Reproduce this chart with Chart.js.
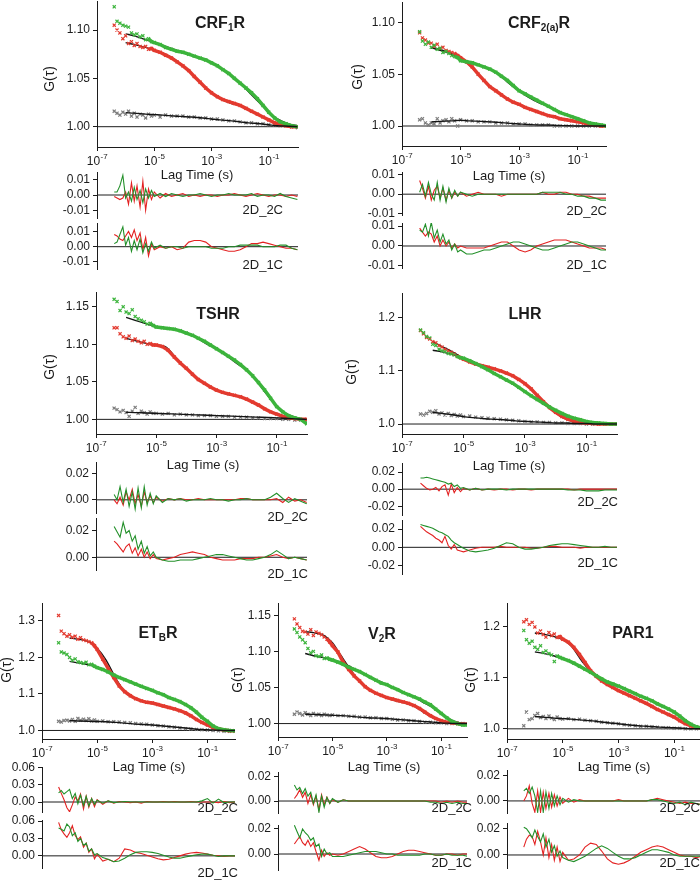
<!DOCTYPE html>
<html>
<head>
<meta charset="utf-8">
<script src="https://cdn.jsdelivr.net/npm/chart.js@4.4.1/dist/chart.umd.min.js"></script>
<style>
  html, body { margin: 0; padding: 0; background: #fff; }
  #fig { position: relative; width: 700px; height: 880px; overflow: hidden; background: #fff; }
  #fig canvas { position: absolute; }
</style>
</head>
<body>
<div id="fig"></div>
<script>
// lag times (s) of the measured points and residuals, and of the fitted curves
const lagTimes = [4e-7, 5e-7, 6.3e-7, 8e-7, 1e-6, 1.26e-6, 1.6e-6, 2e-6, 2.5e-6, 3.2e-6, 4e-6, 5e-6, 6.3e-6, 8e-6, 1e-5, 1.6e-5, 2.5e-5, 4e-5, 6.3e-5, 1e-4, 1.6e-4, 2.5e-4, 4e-4, 6.3e-4, 1e-3, 1.6e-3, 2.5e-3, 4e-3, 6.3e-3, 1e-2, 1.6e-2, 2.5e-2, 4e-2, 6.3e-2, 0.1, 0.16, 0.25, 0.4, 0.63, 1];
const fitTimes = [1e-6, 2e-6, 5e-6, 1e-5, 2e-5, 5e-5, 1e-4, 2e-4, 5e-4, 1e-3, 2e-3, 5e-3, 1e-2, 2e-2, 5e-2, 0.1, 0.2, 0.5, 1];
const xTickValues = [1e-7, 1e-5, 1e-3, 1e-1];

// CRF1R
const crf1Ticks = [1.00, 1.05, 1.10];
const crf1ResTicks = [-0.01, 0.00, 0.01];
const crf1Red = [1.105,1.100,1.097,1.091,1.094,1.086,1.088,1.084,1.086,1.083, 1.082,1.083,1.080,1.081,1.079,1.077,1.074,1.071,1.067,1.063, 1.058,1.052,1.046,1.040,1.035,1.031,1.028,1.026,1.024,1.022, 1.019,1.016,1.013,1.010,1.007,1.004,1.002,1.001,1.000,1.000];
const crf1Green = [1.124,1.109,1.107,1.105,1.104,1.103,1.097,1.095,1.096,1.093, 1.094,1.090,1.091,1.088,1.087,1.085,1.082,1.080,1.078,1.077, 1.075,1.073,1.071,1.069,1.066,1.063,1.059,1.055,1.050,1.045, 1.040,1.035,1.029,1.022,1.015,1.009,1.005,1.003,1.001,1.000];
const crf1Gray = [1.016,1.014,1.012,1.015,1.013,1.016,1.011,1.014,1.010,1.013, 1.012,1.009,1.013,1.011,1.012,1.010,1.012,1.011,1.011,1.011, 1.010,1.010,1.009,1.009,1.008,1.008,1.007,1.006,1.006,1.005, 1.004,1.004,1.003,1.003,1.002,1.002,1.001,1.001,1.000,0.999];
const crf1RedFit = [1.087,1.085,1.082,1.079,1.076,1.070,1.063,1.055,1.043,1.035,1.029,1.024,1.022,1.018,1.012,1.007,1.003,1.001,1.000];
const crf1GreenFit = [1.096,1.094,1.090,1.087,1.084,1.080,1.077,1.074,1.070,1.066,1.061,1.052,1.045,1.036,1.024,1.015,1.008,1.003,1.001];
const crf1GrayFit = [1.0145,1.014,1.013,1.0125,1.012,1.011,1.0105,1.010,1.009,1.008,1.007,1.006,1.005,1.004,1.003,1.002,1.001,1.0005,1.000];
const crf1Red2C = [-0.001,-0.002,-0.003,-0.002,0.002,-0.006,0.008,-0.004,0.006,-0.008, 0.009,-0.010,0.004,-0.003,0.002,-0.002,0.001,-0.001,0.000,0.001, -0.001,0.000,-0.001,0.000,0.000,-0.001,0.000,0.000,0.001,0.000, -0.001,0.000,0.001,0.000,-0.001,0.000,0.000,-0.001,0.000,-0.001];
const crf1Green2C = [0.002,0.002,0.006,0.013,-0.002,0.002,-0.004,0.005,-0.003,0.003, -0.005,0.004,-0.002,0.003,-0.001,0.001,-0.001,0.001,0.000,-0.001, 0.000,0.000,0.001,0.000,-0.001,0.000,0.000,0.001,0.000,0.000, 0.000,0.001,-0.001,0.000,0.000,-0.001,0.001,-0.001,-0.002,-0.003];
const crf1Red1C = [0.008,0.007,0.005,0.004,0.007,0.010,0.006,0.011,0.004,0.009, -0.002,0.006,-0.006,0.002,-0.002,0.000,-0.001,0.000,-0.002,-0.001, 0.003,0.004,0.004,0.003,0.000,-0.001,-0.002,-0.003,-0.003,-0.002, 0.000,0.002,0.002,0.003,0.002,0.001,0.000,-0.001,-0.001,-0.002];
const crf1Green1C = [0.002,0.003,0.008,0.013,0.001,0.006,-0.003,0.004,-0.002,0.005, -0.004,0.002,-0.003,0.003,-0.001,0.001,-0.001,0.000,0.000,-0.001, 0.000,0.000,0.000,0.000,-0.001,-0.001,-0.001,0.000,0.000,0.001, 0.001,0.001,0.001,0.000,0.000,0.000,0.001,0.001,-0.001,-0.002];

// CRF2(a)R
const crf2Ticks = [1.00, 1.05, 1.10];
const crf2ResTicks = [-0.01, 0.00, 0.01];
const crf2Red = [1.090,1.085,1.083,1.080,1.080,1.077,1.079,1.075,1.076,1.073, 1.072,1.071,1.070,1.068,1.066,1.062,1.057,1.050,1.044,1.038, 1.034,1.030,1.026,1.023,1.021,1.018,1.016,1.014,1.012,1.010, 1.009,1.007,1.006,1.005,1.004,1.003,1.002,1.001,1.000,1.000];
const crf2Green = [1.091,1.082,1.079,1.081,1.076,1.078,1.074,1.075,1.071,1.072, 1.070,1.068,1.067,1.066,1.063,1.062,1.061,1.059,1.057,1.055, 1.052,1.048,1.044,1.039,1.034,1.031,1.028,1.025,1.022,1.019, 1.016,1.013,1.011,1.009,1.007,1.005,1.003,1.002,1.001,1.000];
const crf2Gray = [1.006,1.007,1.003,1.001,1.003,1.002,1.007,1.003,1.005,1.006, 1.004,1.007,1.005,1.000,1.006,1.005,1.005,1.004,1.004,1.004, 1.003,1.003,1.003,1.002,1.002,1.002,1.001,1.001,1.001,1.001, 1.000,1.000,1.000,1.000,1.000,1.000,1.000,1.000,1.000,1.000];
const crf2RedFit = [1.0755,1.074,1.070,1.066,1.059,1.047,1.038,1.032,1.025,1.021,1.017,1.013,1.010,1.008,1.005,1.004,1.002,1.001,1.000];
const crf2GreenFit = [1.0755,1.073,1.069,1.064,1.061,1.058,1.055,1.050,1.040,1.034,1.028,1.022,1.019,1.015,1.010,1.007,1.004,1.001,1.000];
const crf2GrayFit = [1.004,1.0045,1.005,1.0055,1.005,1.0045,1.004,1.0035,1.0025,1.002,1.0015,1.001,1.001,1.0005,1.0003,1.000,1.000,1.000,1.000];
const crf2Red2C = [0.007,0.003,-0.002,0.004,-0.003,0.002,0.004,-0.002,0.003,-0.003, 0.002,-0.002,0.001,-0.001,0.001,-0.001,0.000,0.001,0.000,0.000, 0.000,-0.001,0.000,0.000,0.000,0.000,0.000,0.000,0.001,0.000, 0.000,0.001,0.001,0.000,0.000,-0.001,-0.001,-0.002,-0.002,-0.002];
const crf2Green2C = [0.001,0.005,-0.001,0.006,0.000,-0.003,0.006,-0.003,0.004,-0.004, 0.003,-0.002,0.002,-0.001,0.001,0.000,-0.001,0.000,0.000,0.000, 0.000,0.000,0.000,0.000,0.000,0.000,0.000,0.000,0.001,0.001, 0.001,0.001,0.000,0.000,-0.001,-0.001,-0.002,-0.002,-0.003,-0.003];
const crf2Red1C = [0.009,0.007,0.005,0.007,0.006,0.002,0.005,0.000,0.003,0.000, 0.002,-0.001,0.001,-0.001,0.000,-0.001,-0.001,-0.001,-0.001,0.000, 0.001,0.002,0.002,0.000,-0.002,-0.003,-0.002,0.000,0.001,0.002, 0.003,0.003,0.003,0.002,0.001,0.000,-0.001,-0.001,-0.001,-0.002];
const crf2Green1C = [0.008,0.007,0.011,0.005,0.012,0.004,0.008,0.002,0.006,0.001, 0.003,-0.002,0.001,-0.003,-0.002,-0.004,-0.004,-0.003,-0.002,-0.002, -0.001,0.000,0.001,0.002,0.002,0.001,0.000,-0.001,-0.002,-0.002, -0.001,0.000,0.001,0.002,0.002,0.001,0.000,-0.001,-0.002,-0.002];

// TSHR
const tshrTicks = [1.00, 1.05, 1.10, 1.15];
const tshrResTicks = [0.00, 0.02];
const tshrRed = [1.122,1.122,1.114,1.110,1.108,1.111,1.105,1.107,1.104,1.102, 1.104,1.100,1.101,1.099,1.099,1.097,1.092,1.083,1.075,1.068, 1.060,1.053,1.048,1.043,1.039,1.036,1.034,1.032,1.030,1.027, 1.023,1.019,1.014,1.010,1.007,1.004,1.002,1.001,1.000,1.000];
const tshrGreen = [1.160,1.157,1.145,1.150,1.143,1.141,1.146,1.137,1.134,1.132, 1.130,1.127,1.128,1.125,1.123,1.122,1.121,1.120,1.118,1.115, 1.112,1.108,1.104,1.099,1.094,1.089,1.084,1.079,1.073,1.066, 1.058,1.049,1.039,1.028,1.017,1.010,1.005,1.002,1.000,0.994];
const tshrGray = [1.015,1.013,1.010,1.012,1.009,1.004,1.011,1.016,1.008,1.011, 1.009,1.007,1.010,1.008,1.008,1.007,1.008,1.006,1.007,1.006, 1.006,1.005,1.005,1.005,1.004,1.004,1.004,1.003,1.003,1.003, 1.002,1.002,1.001,1.001,1.001,1.000,1.000,0.999,0.999,0.998];
const tshrRedFit = [1.108,1.105,1.101,1.099,1.097,1.080,1.068,1.057,1.045,1.039,1.034,1.031,1.027,1.021,1.012,1.008,1.004,1.001,1.000];
const tshrGreenFit = [1.136,1.132,1.127,1.123,1.121,1.119,1.116,1.110,1.100,1.094,1.086,1.074,1.066,1.053,1.032,1.018,1.008,1.002,1.000];
const tshrGrayFit = [1.0095,1.009,1.0085,1.008,1.0075,1.007,1.0065,1.006,1.0055,1.005,1.0045,1.004,1.0035,1.003,1.0025,1.002,1.0015,1.0005,1.000];
const tshrRed2C = [0.000,-0.003,0.002,-0.004,0.006,0.000,0.008,-0.003,0.004,-0.005, 0.006,-0.002,0.003,-0.002,0.002,-0.001,0.001,0.000,0.001,0.000, 0.000,0.001,0.000,0.000,0.000,0.000,0.000,0.000,0.001,0.001, 0.000,0.000,0.000,0.000,0.001,-0.002,0.002,-0.001,0.000,-0.002];
const tshrGreen2C = [0.004,0.000,0.010,-0.002,0.008,-0.005,0.006,-0.007,0.009,-0.006, 0.010,-0.004,0.005,-0.003,0.003,-0.002,0.001,0.000,0.001,-0.001, 0.000,0.000,0.000,0.001,0.000,0.000,-0.001,0.000,0.000,0.001, 0.000,0.000,0.000,0.002,0.005,0.001,-0.002,0.001,-0.001,-0.003];
const tshrRed1C = [0.012,0.010,0.007,0.004,0.008,0.010,0.003,0.007,0.001,0.006, 0.000,0.004,-0.001,0.002,-0.001,-0.002,-0.001,0.000,0.002,0.003, 0.004,0.003,0.002,0.000,-0.001,-0.002,-0.002,-0.002,-0.001,-0.001, -0.001,0.000,0.000,0.001,0.002,0.000,-0.001,0.000,-0.001,-0.002];
const tshrGreen1C = [0.023,0.019,0.015,0.026,0.018,0.020,0.012,0.016,0.006,0.012, 0.003,0.008,0.001,0.004,0.000,-0.002,-0.003,-0.003,-0.002,-0.002, -0.002,-0.001,0.000,0.001,0.002,0.002,0.001,0.000,-0.001,-0.002, -0.002,-0.001,0.000,0.002,0.005,0.002,-0.001,0.000,-0.001,-0.002];

// LHR
const lhrTicks = [1.0, 1.1, 1.2];
const lhrResTicks = [-0.02, 0.00, 0.02];
const lhrRed = [1.176,1.170,1.163,1.160,1.155,1.153,1.148,1.145,1.141,1.138, 1.135,1.132,1.128,1.125,1.122,1.117,1.113,1.110,1.107,1.104, 1.100,1.096,1.091,1.084,1.076,1.066,1.054,1.042,1.031,1.022, 1.014,1.009,1.005,1.003,1.002,1.001,1.000,1.000,1.000,1.000];
const lhrGreen = [1.177,1.172,1.165,1.162,1.150,1.148,1.141,1.138,1.136,1.133, 1.132,1.130,1.127,1.125,1.124,1.119,1.114,1.108,1.102,1.095, 1.089,1.083,1.077,1.069,1.061,1.053,1.046,1.039,1.032,1.026, 1.020,1.015,1.011,1.008,1.005,1.003,1.002,1.001,1.000,1.000];
const lhrGray = [1.019,1.017,1.020,1.024,1.022,1.025,1.019,1.021,1.017,1.020, 1.016,1.018,1.015,1.017,1.014,1.015,1.013,1.012,1.011,1.010, 1.009,1.008,1.007,1.006,1.005,1.004,1.004,1.003,1.003,1.002, 1.002,1.001,1.001,1.001,1.000,1.000,1.000,1.000,1.000,1.000];
const lhrRedFit = [1.155,1.146,1.134,1.123,1.115,1.108,1.104,1.098,1.087,1.076,1.061,1.035,1.021,1.010,1.003,1.001,1.000,1.000,1.000];
const lhrGreenFit = [1.139,1.136,1.130,1.124,1.118,1.105,1.095,1.085,1.072,1.061,1.050,1.034,1.025,1.017,1.010,1.005,1.002,1.000,1.000];
const lhrGrayFit = [1.022,1.020,1.017,1.014,1.012,1.010,1.009,1.008,1.006,1.005,1.004,1.003,1.002,1.002,1.001,1.001,1.000,1.000,1.000];
const lhrRed2C = [0.007,0.004,0.001,-0.001,0.000,0.002,-0.002,0.003,0.005,-0.007, 0.006,-0.004,0.002,-0.003,0.001,-0.001,0.001,-0.001,0.000,-0.001, 0.000,0.000,-0.001,0.000,0.000,-0.001,0.000,0.000,0.000,0.000, 0.000,0.000,-0.001,0.000,0.000,0.000,0.000,0.000,0.000,0.000];
const lhrGreen2C = [0.013,0.013,0.014,0.013,0.012,0.011,0.010,0.009,0.008,0.006, 0.007,0.003,0.005,0.001,0.002,-0.001,0.001,-0.001,0.000,0.000, 0.000,-0.001,0.000,0.000,0.000,0.000,0.000,0.000,0.000,0.000, 0.000,-0.001,-0.001,-0.001,-0.002,-0.002,-0.002,-0.001,-0.001,-0.001];
const lhrRed1C = [0.023,0.020,0.017,0.015,0.013,0.010,0.008,0.005,0.012,0.002, -0.002,0.003,-0.003,-0.004,-0.005,-0.003,-0.001,0.000,0.000,0.000, 0.001,0.000,0.000,0.000,0.000,-0.001,-0.001,0.000,0.001,0.001, 0.000,0.000,0.000,-0.001,0.000,0.000,0.000,0.000,0.000,0.000];
const lhrGreen1C = [0.025,0.024,0.023,0.022,0.021,0.019,0.017,0.016,0.014,0.012, 0.008,0.005,0.003,0.001,-0.001,-0.004,-0.005,-0.004,-0.003,-0.001, 0.002,0.005,0.004,0.000,-0.002,-0.002,-0.001,0.000,0.002,0.003, 0.004,0.004,0.003,0.002,0.001,0.000,0.000,0.001,0.000,0.000];

// ETBR
const etbTicks = [1.0, 1.1, 1.2, 1.3];
const etbResTicks = [0.00, 0.03, 0.06];
const etbRed = [1.315,1.272,1.265,1.258,1.262,1.255,1.258,1.250,1.254,1.248, 1.246,1.243,1.240,1.232,1.222,1.195,1.170,1.145,1.122,1.106, 1.095,1.087,1.081,1.077,1.075,1.071,1.067,1.063,1.059,1.054, 1.048,1.040,1.030,1.022,1.015,1.008,1.004,1.001,0.999,0.999];
const etbGreen = [1.240,1.215,1.212,1.208,1.200,1.192,1.196,1.188,1.186,1.184, 1.187,1.180,1.181,1.176,1.172,1.167,1.160,1.152,1.145,1.139, 1.133,1.127,1.121,1.115,1.110,1.103,1.098,1.090,1.085,1.079, 1.071,1.062,1.050,1.036,1.025,1.012,1.005,1.002,1.000,0.999];
const etbGray = [1.025,1.023,1.027,1.028,1.026,1.030,1.025,1.033,1.028,1.031, 1.027,1.032,1.026,1.029,1.025,1.026,1.024,1.024,1.023,1.022, 1.021,1.019,1.018,1.017,1.015,1.013,1.012,1.010,1.009,1.007, 1.005,1.004,1.003,1.002,1.001,1.000,0.999,0.998,0.998,0.998];
const etbRedFit = [1.253,1.250,1.243,1.225,1.195,1.140,1.106,1.090,1.078,1.075,1.069,1.061,1.054,1.044,1.026,1.015,1.006,1.001,0.999];
const etbGreenFit = [1.189,1.185,1.180,1.173,1.164,1.149,1.139,1.129,1.117,1.110,1.100,1.088,1.079,1.066,1.043,1.025,1.010,1.002,0.999];
const etbGrayFit = [1.027,1.026,1.025,1.0245,1.024,1.022,1.020,1.018,1.0165,1.015,1.013,1.010,1.008,1.006,1.003,1.002,1.001,1.000,1.000];
const etbRed2C = [0.026,0.015,0.004,-0.010,-0.017,-0.005,0.009,0.002,0.014,-0.012, 0.010,-0.009,0.006,-0.008,0.004,-0.004,0.002,-0.002,0.001,0.000, -0.001,0.000,-0.002,0.001,0.000,0.000,0.001,0.000,0.001,0.000, 0.000,0.001,0.000,0.000,0.000,0.000,-0.001,0.001,-0.001,0.000];
const etbGreen2C = [0.016,0.020,0.014,0.018,0.022,0.006,0.015,-0.003,0.012,-0.006, 0.010,-0.007,0.006,-0.004,0.003,-0.002,0.002,-0.001,0.000,0.001, 0.000,0.000,0.000,0.000,0.000,0.000,0.000,0.000,0.000,0.000, 0.000,0.000,0.000,0.002,0.006,-0.002,0.005,-0.001,0.000,0.000];
const etbRed1C = [0.058,0.045,0.038,0.032,0.040,0.052,0.035,0.028,0.033,0.015, 0.022,0.006,0.012,-0.005,0.003,-0.009,-0.006,-0.010,-0.004,0.012, 0.010,0.006,0.004,0.001,-0.002,-0.005,-0.007,-0.006,-0.003,0.000, 0.003,0.005,0.006,0.005,0.003,0.001,0.000,-0.001,0.000,0.000];
const etbGreen1C = [0.048,0.046,0.043,0.055,0.050,0.035,0.040,0.025,0.030,0.018, 0.022,0.008,0.012,0.002,0.004,-0.003,-0.006,-0.010,-0.009,-0.004, 0.002,0.006,0.007,0.007,0.006,0.004,0.001,-0.002,-0.004,-0.004, -0.002,0.000,0.002,0.003,0.003,0.001,-0.001,0.000,0.000,0.000];

// V2R
const v2Ticks = [1.00, 1.05, 1.10, 1.15];
const v2ResTicks = [0.00, 0.02];
const v2Red = [1.145,1.138,1.133,1.128,1.127,1.124,1.130,1.122,1.127,1.125, 1.123,1.120,1.117,1.113,1.108,1.099,1.085,1.075,1.066,1.059, 1.051,1.046,1.042,1.039,1.036,1.034,1.032,1.030,1.028,1.025, 1.021,1.016,1.011,1.007,1.004,1.002,1.001,1.000,0.999,0.999];
const v2Green = [1.131,1.126,1.120,1.116,1.112,1.104,1.098,1.100,1.094,1.093, 1.095,1.090,1.091,1.089,1.088,1.085,1.082,1.078,1.075,1.072, 1.068,1.064,1.060,1.056,1.054,1.050,1.047,1.043,1.040,1.037, 1.034,1.030,1.026,1.020,1.014,1.008,1.003,1.000,0.998,0.998];
const v2Gray = [1.013,1.016,1.014,1.012,1.015,1.013,1.011,1.014,1.012,1.013, 1.011,1.013,1.012,1.011,1.012,1.011,1.011,1.010,1.010,1.009, 1.009,1.008,1.008,1.007,1.007,1.006,1.005,1.005,1.004,1.004, 1.003,1.002,1.002,1.001,1.001,1.000,1.000,1.000,1.000,0.999];
const v2RedFit = [1.127,1.126,1.122,1.112,1.095,1.073,1.058,1.048,1.040,1.036,1.032,1.028,1.024,1.017,1.008,1.004,1.001,1.000,1.000];
const v2GreenFit = [1.097,1.094,1.091,1.088,1.085,1.078,1.072,1.066,1.059,1.054,1.048,1.041,1.037,1.030,1.022,1.014,1.006,1.001,0.999];
const v2GrayFit = [1.013,1.0127,1.012,1.0115,1.011,1.010,1.009,1.008,1.0075,1.007,1.006,1.005,1.004,1.003,1.002,1.001,1.0005,1.000,1.000];
const v2Red2C = [0.002,0.005,0.009,0.003,0.007,-0.002,0.005,-0.003,0.004,-0.007, 0.005,-0.003,0.003,-0.002,0.001,-0.001,0.001,0.000,0.000,0.000, 0.000,0.000,0.000,0.000,0.000,0.000,0.000,0.000,0.000,0.000, 0.000,0.000,0.000,0.000,-0.001,0.000,-0.001,0.000,-0.001,-0.001];
const v2Green2C = [0.013,0.009,0.011,0.006,0.010,0.004,0.007,-0.002,0.005,-0.009, 0.004,-0.005,0.003,-0.002,0.002,-0.001,0.001,0.000,0.000,0.000, 0.000,0.000,0.000,0.000,0.000,0.000,0.000,0.000,0.000,0.000, 0.000,0.000,-0.001,-0.001,-0.002,-0.001,-0.002,-0.001,-0.002,-0.002];
const v2Red1C = [0.008,0.011,0.014,0.009,0.007,0.011,0.006,0.009,0.002,-0.005, 0.003,-0.002,0.001,-0.001,0.000,-0.001,0.000,0.002,0.004,0.006, 0.004,0.001,-0.002,-0.003,-0.003,-0.002,0.000,0.002,0.003,0.003, 0.002,0.001,0.000,-0.001,-0.001,0.000,0.000,-0.001,0.000,0.000];
const v2Green1C = [0.023,0.018,0.013,0.020,0.017,0.015,0.011,0.013,0.006,0.008, -0.002,0.004,0.000,0.001,-0.002,-0.002,-0.002,-0.001,0.000,0.001, 0.002,0.002,0.002,0.001,0.000,0.000,-0.001,-0.001,-0.001,-0.001, -0.001,0.000,0.000,-0.001,-0.001,0.000,-0.001,-0.001,-0.001,-0.002];

// PAR1
const par1Ticks = [1.0, 1.1, 1.2];
const par1ResTicks = [0.00, 0.02];
const par1Red = [1.210,1.214,1.205,1.209,1.200,1.188,1.192,1.185,1.180,1.189, 1.183,1.186,1.179,1.181,1.176,1.170,1.160,1.146,1.130,1.114, 1.103,1.094,1.087,1.081,1.075,1.070,1.065,1.060,1.055,1.050, 1.044,1.038,1.033,1.028,1.023,1.016,1.010,1.006,1.003,1.001];
const par1Green = [1.193,1.175,1.168,1.172,1.160,1.156,1.163,1.150,1.153,1.148, 1.145,1.132,1.143,1.140,1.138,1.134,1.129,1.123,1.117,1.111, 1.104,1.098,1.092,1.088,1.084,1.079,1.074,1.069,1.064,1.060, 1.055,1.049,1.044,1.039,1.033,1.025,1.016,1.009,1.004,1.001];
const par1Gray = [1.006,1.033,1.018,1.020,1.026,1.030,1.022,1.024,1.020,1.025, 1.021,1.018,1.023,1.020,1.019,1.020,1.018,1.019,1.017,1.016, 1.015,1.013,1.012,1.011,1.010,1.008,1.007,1.006,1.005,1.005, 1.004,1.003,1.002,1.002,1.001,1.001,1.000,1.000,1.000,1.000];
const par1RedFit = [1.188,1.186,1.181,1.175,1.163,1.132,1.113,1.099,1.084,1.075,1.068,1.059,1.050,1.041,1.030,1.023,1.013,1.005,1.001];
const par1GreenFit = [1.151,1.148,1.143,1.138,1.132,1.121,1.111,1.101,1.089,1.084,1.077,1.067,1.060,1.051,1.041,1.033,1.021,1.007,1.001];
const par1GrayFit = [1.024,1.023,1.021,1.020,1.019,1.017,1.016,1.014,1.0115,1.010,1.008,1.006,1.005,1.004,1.0025,1.002,1.001,1.000,1.000];
const par1Red2C = [0.000,0.004,0.012,-0.002,-0.009,0.008,-0.009,0.007,-0.006,0.006, -0.005,0.005,-0.004,0.003,-0.002,0.002,-0.001,0.001,0.000,0.000, 0.000,0.000,0.000,0.000,0.001,0.000,0.000,0.000,0.000,0.000, 0.001,0.002,0.001,0.000,-0.001,-0.002,-0.001,-0.002,-0.002,-0.003];
const par1Green2C = [0.008,0.010,0.006,0.011,0.004,-0.009,0.008,-0.009,0.007,-0.006, 0.006,-0.004,0.004,-0.003,0.002,-0.001,0.001,0.000,0.000,0.000, 0.000,0.000,0.000,0.000,0.000,0.000,0.000,0.000,0.000,0.000, 0.001,0.001,0.000,-0.001,-0.002,-0.001,-0.003,-0.001,-0.002,-0.003];
const par1Red1C = [0.006,0.012,0.015,0.014,0.008,0.018,0.010,0.000,0.013,-0.002, 0.008,-0.004,0.006,-0.005,0.002,-0.004,-0.003,0.000,0.006,0.009, 0.008,0.003,-0.003,-0.006,-0.007,-0.006,-0.004,-0.001,0.002,0.004, 0.006,0.007,0.006,0.004,0.002,0.000,-0.001,-0.001,-0.002,-0.001];
const par1Green1C = [0.021,0.020,0.017,0.013,0.019,0.014,0.010,0.016,0.006,0.012, 0.002,0.007,-0.001,0.003,-0.002,-0.004,-0.005,-0.003,-0.001,0.002, 0.005,0.007,0.005,0.002,-0.001,-0.003,-0.003,-0.002,0.000,0.002, 0.004,0.004,0.003,0.002,0.000,-0.001,-0.001,-0.001,-0.001,-0.001];

// ---- styling / layout ----
const AXIS = '#1c1c1c';
const RED = '#e33a2f', GREEN = '#3cb43c', GRAY = '#7c7c7c', FIT = '#141414';
const RES_RED = '#e32222', RES_GREEN = '#23902a';
const FONT = '"Liberation Sans", Arial, sans-serif';
const ML = 62, MT = 12, MR = 12, MB_MAIN = 44, MB_RES = 12;
const BAND_FROM = 12;

const panels = [
  { title: [['CRF', 0], ['1', 1], ['R', 0]], titleAt: [220, 28], gAt: [50, 79], lagAt: [197, 179],
    area: { x: 97, y: 1, w: 201, h: 146 }, xMax: 1.05, yMin: 0.979, yMax: 1.130, yTicks: crf1Ticks, yDigits: 2,
    red: crf1Red, green: crf1Green, gray: crf1Gray, redFit: crf1RedFit, greenFit: crf1GreenFit, grayFit: crf1GrayFit,
    res: [
      { y: 172, h: 46, min: -0.0151, max: 0.0151, ticks: crf1ResTicks, red: crf1Red2C, green: crf1Green2C, label: '2D_2C', labelAt: [283, 210] },
      { y: 223, h: 46, min: -0.0146, max: 0.0155, ticks: crf1ResTicks, red: crf1Red1C, green: crf1Green1C, label: '2D_1C', labelAt: [283, 265] }
    ] },
  { title: [['CRF', 0], ['2(a)', 1], ['R', 0]], titleAt: [539, 28], gAt: [358, 77], lagAt: [509, 180],
    area: { x: 402, y: 2, w: 204, h: 144 }, xMax: 0.93, yMin: 0.9807, yMax: 1.1197, yTicks: crf2Ticks, yDigits: 2,
    red: crf2Red, green: crf2Green, gray: crf2Gray, redFit: crf2RedFit, greenFit: crf2GreenFit, grayFit: crf2GrayFit,
    res: [
      { y: 172, h: 43, min: -0.0106, max: 0.0113, ticks: crf2ResTicks, red: crf2Red2C, green: crf2Green2C, label: '2D_2C', labelAt: [607, 211] },
      { y: 223, h: 45, min: -0.0111, max: 0.0116, ticks: crf2ResTicks, red: crf2Red1C, green: crf2Green1C, label: '2D_1C', labelAt: [607, 265] }
    ] },
  { title: [['TSHR', 0]], titleAt: [218, 319], gAt: [50, 367], lagAt: [203, 469],
    area: { x: 96, y: 292, w: 211, h: 142 }, xMax: 1.02, yMin: 0.9805, yMax: 1.1697, yTicks: tshrTicks, yDigits: 2,
    red: tshrRed, green: tshrGreen, gray: tshrGray, redFit: tshrRedFit, greenFit: tshrGreenFit, grayFit: tshrGrayFit,
    res: [
      { y: 462, h: 51, min: -0.010, max: 0.0287, ticks: tshrResTicks, red: tshrRed2C, green: tshrGreen2C, label: '2D_2C', labelAt: [308, 517] },
      { y: 518, h: 52, min: -0.0095, max: 0.0293, ticks: tshrResTicks, red: tshrRed1C, green: tshrGreen1C, label: '2D_1C', labelAt: [308, 574] }
    ] },
  { title: [['LHR', 0]], titleAt: [525, 319], gAt: [352, 372], lagAt: [509, 470],
    area: { x: 402, y: 293, w: 215, h: 141 }, xMax: 0.99, yMin: 0.9812, yMax: 1.2468, yTicks: lhrTicks, yDigits: 1,
    red: lhrRed, green: lhrGreen, gray: lhrGray, redFit: lhrRedFit, greenFit: lhrGreenFit, grayFit: lhrGrayFit,
    res: [
      { y: 463, h: 52, min: -0.0302, max: 0.0306, ticks: lhrResTicks, red: lhrRed2C, green: lhrGreen2C, label: '2D_2C', labelAt: [618, 502] },
      { y: 520, h: 54, min: -0.0293, max: 0.030, ticks: lhrResTicks, red: lhrRed1C, green: lhrGreen1C, label: '2D_1C', labelAt: [618, 563] }
    ] },
  { title: [['ET', 0], ['B', 1], ['R', 0]], titleAt: [158, 638], gAt: [7, 670], lagAt: [149, 771],
    area: { x: 42, y: 603, w: 193, h: 136 }, xMax: 1.0, yMin: 0.9766, yMax: 1.349, yTicks: etbTicks, yDigits: 1,
    red: etbRed, green: etbGreen, gray: etbGray, redFit: etbRedFit, greenFit: etbGreenFit, grayFit: etbGrayFit,
    res: [
      { y: 767, h: 45, min: -0.0174, max: 0.061, ticks: etbResTicks, red: etbRed2C, green: etbGreen2C, label: '2D_2C', labelAt: [238, 808] },
      { y: 820, h: 48, min: -0.021, max: 0.062, ticks: etbResTicks, red: etbRed1C, green: etbGreen1C, label: '2D_1C', labelAt: [238, 873] }
    ] },
  { title: [['V', 0], ['2', 1], ['R', 0]], titleAt: [382, 639], gAt: [238, 680], lagAt: [384, 771],
    area: { x: 278, y: 603, w: 189, h: 134 }, xMax: 0.89, yMin: 0.9814, yMax: 1.167, yTicks: v2Ticks, yDigits: 2,
    red: v2Red, green: v2Green, gray: v2Gray, redFit: v2RedFit, greenFit: v2GreenFit, grayFit: v2GrayFit,
    res: [
      { y: 772, h: 41, min: -0.0097, max: 0.0235, ticks: v2ResTicks, red: v2Red2C, green: v2Green2C, label: '2D_2C', labelAt: [472, 808] },
      { y: 825, h: 45, min: -0.0128, max: 0.0232, ticks: v2ResTicks, red: v2Red1C, green: v2Green1C, label: '2D_1C', labelAt: [472, 863] }
    ] },
  { title: [['PAR1', 0]], titleAt: [633, 638], gAt: [471, 680], lagAt: [614, 771],
    area: { x: 507, y: 603, w: 195, h: 136 }, xMax: 1.0, yMin: 0.980, yMax: 1.247, yTicks: par1Ticks, yDigits: 1,
    red: par1Red, green: par1Green, gray: par1Gray, redFit: par1RedFit, greenFit: par1GreenFit, grayFit: par1GrayFit,
    res: [
      { y: 770, h: 43, min: -0.0096, max: 0.0246, ticks: par1ResTicks, red: par1Red2C, green: par1Green2C, label: '2D_2C', labelAt: [700, 808] },
      { y: 823, h: 45, min: -0.0099, max: 0.0243, ticks: par1ResTicks, red: par1Red1C, green: par1Green1C, label: '2D_1C', labelAt: [700, 863] }
    ] }
];

const toPts = (xs, ys) => ys.map((y, i) => ({ x: xs[i], y: y }));

// text that chart.js can't do on its own: superscript ticks, subscript titles, rotated G(tau)
const decor = {
  id: 'decor',
  afterDraw(chart, args, o) {
    const ctx = chart.ctx;
    const area = chart.chartArea;
    ctx.save();
    ctx.fillStyle = AXIS;
    if (o.main) {
      const xs = chart.scales.x;
      ctx.textAlign = 'left';
      ctx.textBaseline = 'alphabetic';
      xTickValues.forEach(v => {
        const px = xs.getPixelForValue(v);
        const exp = String(Math.round(Math.log10(v)));
        ctx.font = '12px ' + FONT;
        const w1 = ctx.measureText('10').width;
        ctx.font = '8px ' + FONT;
        const w2 = ctx.measureText(exp).width;
        const x0 = px - (w1 + w2) / 2;
        ctx.font = '12px ' + FONT;
        ctx.fillText('10', x0, area.bottom + 18);
        ctx.font = '8px ' + FONT;
        ctx.fillText(exp, x0 + w1 + 0.5, area.bottom + 12);
      });
      ctx.font = '13px ' + FONT;
      ctx.textAlign = 'center';
      ctx.fillText('Lag Time (s)', o.lagAt[0] - o.ox, o.lagAt[1] - o.oy);

      ctx.save();
      ctx.translate(o.gAt[0] - o.ox, o.gAt[1] - o.oy);
      ctx.rotate(-Math.PI / 2);
      ctx.font = '14px ' + FONT;
      ctx.textBaseline = 'middle';
      ctx.fillText('G(τ)', 0, 0);
      ctx.restore();

      // title with subscripts
      const big = 'bold 16px ' + FONT, small = 'bold 10px ' + FONT;
      let total = 0;
      o.title.forEach(([t, sub]) => { ctx.font = sub ? small : big; total += ctx.measureText(t).width; });
      let x = o.titleAt[0] - o.ox - total / 2;
      const y = o.titleAt[1] - o.oy;
      ctx.textAlign = 'left';
      ctx.textBaseline = 'alphabetic';
      o.title.forEach(([t, sub]) => {
        ctx.font = sub ? small : big;
        ctx.fillText(t, x, sub ? y + 3 : y);
        x += ctx.measureText(t).width;
      });
    } else {
      ctx.font = '13px ' + FONT;
      ctx.textAlign = 'right';
      ctx.textBaseline = 'middle';
      ctx.fillText(o.label, o.labelAt[0] - o.ox, o.labelAt[1] - o.oy);
    }
    ctx.restore();
  }
};

const fig = document.getElementById('fig');

function makeChart(area, spec) {
  const mb = spec.main ? MB_MAIN : MB_RES;
  const left = area.x - ML, top = area.y - MT;
  const cv = document.createElement('canvas');
  cv.width = area.w + ML + MR;
  cv.height = area.h + MT + mb;
  cv.style.left = left + 'px';
  cv.style.top = top + 'px';
  fig.appendChild(cv);

  const axisGrid = { display: true, drawOnChartArea: false, drawTicks: true, tickLength: 4, color: AXIS, lineWidth: 1 };
  new Chart(cv, {
    type: 'line',
    data: { datasets: spec.datasets },
    options: {
      responsive: false,
      animation: false,
      devicePixelRatio: 1,
      events: [],
      layout: { padding: { left: 0, top: MT, right: MR, bottom: spec.main ? 0 : mb } },
      plugins: {
        legend: { display: false },
        tooltip: { enabled: false },
        decor: Object.assign({ ox: left, oy: top, main: spec.main }, spec.decor)
      },
      scales: {
        x: {
          type: 'logarithmic', min: 1e-7, max: spec.xMax, display: spec.main,
          afterBuildTicks: s => { s.ticks = xTickValues.map(v => ({ value: v })); },
          afterFit: s => { s.height = spec.main ? mb : 0; },
          ticks: { display: false },
          grid: axisGrid,
          border: { display: true, color: AXIS, width: 1 }
        },
        y: {
          type: 'linear', min: spec.yMin, max: spec.yMax,
          afterBuildTicks: s => { s.ticks = spec.yTicks.map(v => ({ value: v })); },
          afterFit: s => { s.width = ML; },
          ticks: { autoSkip: false, callback: v => Number(v).toFixed(spec.yDigits), padding: 3, color: AXIS, font: { size: 12, family: FONT } },
          grid: axisGrid,
          border: { display: true, color: AXIS, width: 1 }
        }
      }
    },
    plugins: [decor]
  });
}

function measured(values, color, band, order) {
  return {
    data: toPts(lagTimes, values),
    borderColor: color,
    borderWidth: band ? 3.5 : 0,
    showLine: band,
    segment: band ? { borderColor: c => (c.p0DataIndex < BAND_FROM ? 'rgba(0,0,0,0)' : undefined) } : undefined,
    pointStyle: 'crossRot',
    pointRadius: 2.2,
    pointBorderWidth: 1.2,
    pointBorderColor: color,
    pointBackgroundColor: color,
    order: order
  };
}

function fitted(values, order) {
  return {
    data: toPts(fitTimes, values),
    borderColor: FIT, borderWidth: 1.4, pointRadius: 0,
    cubicInterpolationMode: 'monotone', order: order
  };
}

function refLine(y, xMax) {
  return {
    data: [{ x: 1e-7, y: y }, { x: xMax, y: y }],
    borderColor: AXIS, borderWidth: 1, pointRadius: 0, order: 9
  };
}

function residual(values, color, order) {
  return {
    data: toPts(lagTimes, values),
    borderColor: color, borderWidth: 1.1, pointRadius: 0, tension: 0, order: order
  };
}

panels.forEach(p => {
  makeChart(p.area, {
    main: true, xMax: p.xMax, yMin: p.yMin, yMax: p.yMax, yTicks: p.yTicks, yDigits: p.yDigits,
    decor: { title: p.title, titleAt: p.titleAt, gAt: p.gAt, lagAt: p.lagAt },
    datasets: [
      fitted(p.grayFit, 0),
      measured(p.green, GREEN, true, 1),
      measured(p.red, RED, true, 2),
      measured(p.gray, GRAY, false, 3),
      fitted(p.redFit, 4),
      fitted(p.greenFit, 4),
      refLine(1, p.xMax)
    ]
  });
  p.res.forEach(r => {
    makeChart({ x: p.area.x, y: r.y, w: p.area.w, h: r.h }, {
      main: false, xMax: p.xMax, yMin: r.min, yMax: r.max, yTicks: r.ticks, yDigits: 2,
      decor: { label: r.label, labelAt: r.labelAt },
      datasets: [
        residual(r.green, RES_GREEN, 1),
        residual(r.red, RES_RED, 2),
        refLine(0, p.xMax)
      ]
    });
  });
});
</script>
</body>
</html>
